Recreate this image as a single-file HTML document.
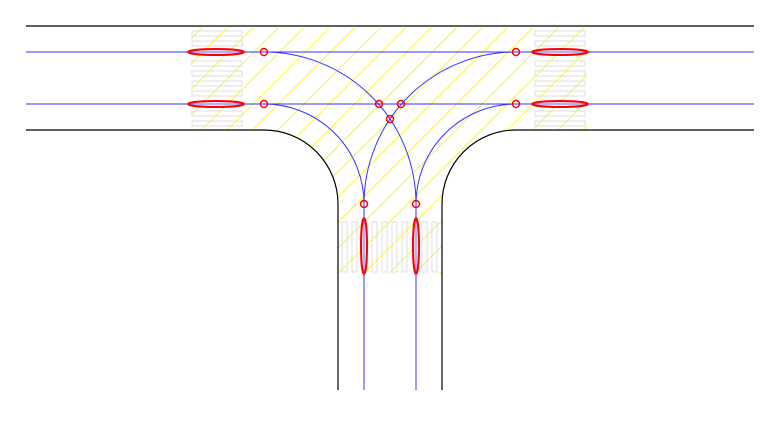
<!DOCTYPE html>
<html><head><style>html,body{margin:0;padding:0;background:#fff}</style></head><body>
<svg width="768" height="416" xmlns="http://www.w3.org/2000/svg">
<defs>
<pattern id="h" patternUnits="userSpaceOnUse" width="18" height="18" patternTransform="rotate(45)">
<line x1="0" y1="0" x2="0" y2="18" stroke="#ffee00" stroke-width="1.6"/>
</pattern>
<clipPath id="c"><path d="M191,28 H587 V129 H516 A74,74 0 0 0 442,203 V274 H338 V203 A74,74 0 0 0 264,129 H191 Z"/></clipPath>
</defs>
<rect x="0" y="0" width="768" height="416" fill="url(#h)" clip-path="url(#c)"/>
<g fill="none" stroke="#ddd" stroke-width="1">
<rect x="192" y="31" width="50" height="5"/><rect x="192" y="41" width="50" height="5"/><rect x="192" y="61" width="50" height="5"/><rect x="192" y="71" width="50" height="5"/><rect x="192" y="81" width="50" height="5"/><rect x="192" y="91" width="50" height="5"/><rect x="192" y="111" width="50" height="5"/><rect x="192" y="121" width="50" height="5"/>
<rect x="535" y="31" width="50" height="5"/><rect x="535" y="41" width="50" height="5"/><rect x="535" y="61" width="50" height="5"/><rect x="535" y="71" width="50" height="5"/><rect x="535" y="81" width="50" height="5"/><rect x="535" y="91" width="50" height="5"/><rect x="535" y="111" width="50" height="5"/><rect x="535" y="121" width="50" height="5"/>
<rect x="342" y="222" width="5" height="50"/><rect x="352" y="222" width="5" height="50"/><rect x="372" y="222" width="5" height="50"/><rect x="382" y="222" width="5" height="50"/><rect x="392" y="222" width="5" height="50"/><rect x="402" y="222" width="5" height="50"/><rect x="422" y="222" width="5" height="50"/><rect x="432" y="222" width="5" height="50"/>
</g>
<g fill="none" stroke="#000" stroke-width="1.2">
<line x1="26" y1="26" x2="754" y2="26"/>
<path d="M26,130 H264 A74,74 0 0 1 338,204 V390"/>
<path d="M754,130 H516 A74,74 0 0 0 442,204 V390"/>
</g>
<g fill="none" stroke="#3333ff" stroke-width="1">
<line x1="26" y1="52" x2="754" y2="52"/>
<line x1="26" y1="104" x2="754" y2="104"/>
<line x1="364" y1="204" x2="364" y2="390"/>
<line x1="416" y1="204" x2="416" y2="390"/>
<path d="M264,52 A152,152 0 0 1 416,204"/>
<path d="M264,104 A100,100 0 0 1 364,204"/>
<path d="M516,52 A152,152 0 0 0 364,204"/>
<path d="M516,104 A100,100 0 0 0 416,204"/>
</g>
<g fill="#ccccff" fill-opacity="0.5" stroke="#ff0000" stroke-width="2">
<ellipse cx="216" cy="52" rx="28" ry="3"/><ellipse cx="216" cy="104" rx="28" ry="3"/>
<ellipse cx="560" cy="52" rx="28" ry="3"/><ellipse cx="560" cy="104" rx="28" ry="3"/>
<ellipse cx="364" cy="246" rx="3" ry="28"/><ellipse cx="416" cy="246" rx="3" ry="28"/>
</g>
<g fill="none" stroke="#ff0000" stroke-width="1.5">
<circle cx="264" cy="52" r="3.5"/><circle cx="264" cy="104" r="3.5"/>
<circle cx="516" cy="52" r="3.5"/><circle cx="516" cy="104" r="3.5"/>
<circle cx="379" cy="104" r="3.5"/><circle cx="401" cy="104" r="3.5"/>
<circle cx="390" cy="119" r="3.5"/>
<circle cx="364" cy="204" r="3.5"/><circle cx="416" cy="204" r="3.5"/>
</g>
</svg>
</body></html>
